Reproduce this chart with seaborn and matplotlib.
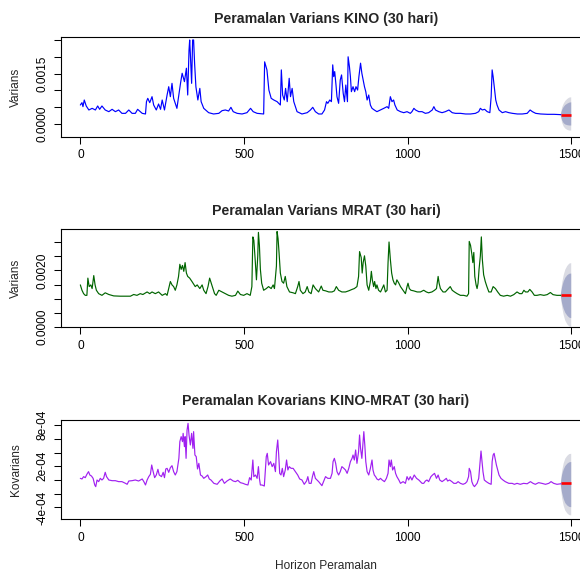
import matplotlib
matplotlib.use("Agg")
import matplotlib.pyplot as plt
import numpy as np
import pandas as pd
import seaborn as sns

# values are stored in units of 1e-4
UNIT = 1e-4

kino_days = [0, 5, 8, 12, 18, 26, 36, 46, 53, 59, 66, 76, 87, 97, 107, 117, 127, 138, 148, 158, 168, 175, 189, 199,
             202, 206, 212, 219, 224, 232, 239, 245, 250, 257, 265, 270, 275, 280, 285, 295, 306, 311, 318, 324, 328,
             332, 334, 336, 340, 343, 346, 349, 353, 359, 365, 369, 377, 392, 407, 423, 433, 443, 453, 460, 467, 479,
             494, 509, 520, 528, 540, 560, 563, 570, 576, 583, 591, 601, 611, 614, 618, 623, 627, 632, 638, 642, 647,
             652, 662, 677, 693, 703, 710, 718, 728, 738, 746, 752, 756, 762, 767, 771, 774, 777, 781, 784, 789, 794,
             798, 803, 807, 811, 816, 818, 822, 825, 828, 833, 838, 842, 847, 851, 856, 860, 864, 868, 872, 876, 881,
             886, 891, 898, 906, 917, 927, 937, 942, 947, 952, 957, 961, 968, 978, 988, 998, 1008, 1013, 1019, 1024,
             1034, 1044, 1054, 1064, 1075, 1080, 1085, 1095, 1105, 1115, 1126, 1136, 1146, 1161, 1177, 1192, 1207,
             1217, 1222, 1228, 1235, 1243, 1251, 1255, 1258, 1261, 1265, 1269, 1273, 1279, 1289, 1299, 1309, 1320,
             1335, 1350, 1365, 1374, 1381, 1391, 1406, 1427, 1447, 1468]
kino_var = [5.65, 6.35, 5.16, 7.14, 5.36, 4.17, 4.66, 4.17, 5.36, 4.37, 5.36, 4.17, 3.67, 4.37, 3.67, 4.17, 3.17, 3.17,
            4.17, 3.17, 3.17, 4.37, 3.17, 2.98, 6.65, 7.64, 6.35, 8.13, 5.65, 4.17, 5.95, 4.37, 7.14, 4.17, 8.63, 11.1,
            8.13, 12.1, 7.64, 4.66, 12.1, 15.1, 12.6, 16.6, 8.63, 22.0, 25.0, 21.0, 12.1, 25.0, 25.0, 18.1, 11.1, 7.14,
            10.6, 6.65, 4.66, 3.37, 2.98, 3.17, 3.97, 4.17, 3.87, 4.96, 3.67, 3.17, 2.98, 3.37, 4.66, 3.67, 3.17, 2.98,
            18.5, 16.1, 10.1, 7.64, 7.14, 6.65, 5.65, 16.1, 8.63, 7.14, 10.6, 6.65, 13.6, 8.13, 10.6, 6.65, 3.67, 2.98,
            3.37, 4.17, 4.96, 3.67, 2.98, 2.98, 4.17, 6.65, 6.15, 7.14, 6.65, 17.6, 14.1, 15.6, 11.6, 8.13, 6.15, 13.1,
            14.6, 9.13, 6.65, 11.6, 6.65, 20.0, 17.1, 14.1, 9.62, 11.1, 9.62, 11.1, 10.1, 14.1, 18.1, 15.1, 13.1, 11.1,
            9.62, 7.14, 8.63, 5.65, 4.66, 4.17, 3.67, 4.17, 4.66, 5.16, 4.66, 8.13, 6.65, 7.14, 5.65, 4.17, 3.67, 3.37,
            3.67, 3.17, 3.67, 4.66, 4.17, 3.67, 3.67, 3.17, 3.37, 4.17, 5.16, 4.17, 3.67, 3.37, 3.67, 4.17, 3.37, 3.17,
            3.17, 2.98, 2.98, 3.17, 3.67, 4.66, 4.17, 4.37, 3.67, 3.37, 8.13, 16.1, 14.1, 10.6, 7.14, 5.65, 4.17, 3.37,
            3.67, 3.37, 3.17, 2.98, 2.98, 3.17, 4.17, 3.67, 3.17, 2.98, 2.88, 2.88, 2.78]

mrat_days = [0, 5, 10, 15, 20, 23, 27, 32, 36, 41, 45, 49, 56, 66, 76, 87, 102, 122, 143, 153, 163, 173, 183, 191, 204,
             212, 219, 229, 239, 250, 260, 265, 275, 280, 285, 290, 295, 300, 304, 308, 312, 316, 320, 324, 328, 334,
             341, 351, 357, 365, 372, 377, 384, 390, 395, 400, 405, 410, 415, 423, 433, 443, 453, 463, 474, 481, 489,
             499, 509, 519, 524, 527, 530, 534, 538, 542, 544, 547, 550, 554, 560, 568, 575, 583, 589, 593, 599, 601,
             604, 607, 611, 616, 621, 626, 631, 639, 650, 657, 664, 668, 672, 680, 687, 693, 698, 705, 711, 718, 728,
             736, 741, 749, 759, 769, 776, 782, 789, 799, 810, 820, 830, 837, 845, 850, 853, 858, 861, 864, 868, 872,
             876, 881, 886, 889, 892, 896, 899, 903, 906, 911, 917, 922, 927, 932, 937, 940, 943, 947, 951, 955, 959,
             963, 967, 973, 978, 986, 993, 998, 1001, 1005, 1010, 1018, 1029, 1039, 1049, 1057, 1064, 1074, 1082, 1088,
             1093, 1096, 1100, 1108, 1115, 1122, 1130, 1136, 1143, 1151, 1161, 1171, 1181, 1186, 1188, 1192, 1196,
             1199, 1202, 1205, 1209, 1212, 1215, 1218, 1222, 1225, 1228, 1232, 1237, 1242, 1248, 1255, 1261, 1268,
             1275, 1283, 1293, 1304, 1314, 1324, 1334, 1342, 1349, 1355, 1360, 1367, 1373, 1380, 1387, 1395, 1405,
             1416, 1426, 1436, 1444, 1456, 1468]
mrat_var = [14.9, 13.0, 11.8, 11.2, 11.2, 17.3, 14.3, 14.9, 13.6, 18.2, 14.9, 13.0, 11.8, 11.2, 12.1, 11.5, 11.0, 10.9,
            10.9, 10.9, 11.5, 11.2, 11.8, 11.5, 12.4, 11.8, 12.4, 11.8, 12.4, 11.2, 11.8, 11.2, 16.1, 14.9, 14.3, 13.0,
            14.9, 17.9, 22.2, 20.4, 21.8, 19.7, 22.8, 19.1, 17.9, 17.3, 16.1, 14.3, 14.9, 13.6, 14.9, 13.0, 11.8, 14.3,
            17.3, 15.5, 13.6, 11.8, 11.2, 13.0, 12.4, 11.8, 11.2, 10.9, 11.2, 12.7, 11.5, 11.2, 11.8, 11.2, 14.3, 31.9,
            30.7, 24.0, 16.7, 25.2, 33.5, 28.9, 20.4, 15.5, 13.0, 13.6, 14.3, 13.6, 14.9, 13.6, 21.6, 33.8, 31.3, 26.4,
            19.1, 16.1, 15.5, 17.9, 14.3, 12.4, 12.1, 11.8, 14.3, 16.1, 13.0, 11.8, 12.4, 14.3, 12.4, 11.8, 14.9, 13.6,
            12.4, 14.5, 13.0, 12.8, 12.4, 12.4, 12.8, 14.3, 13.0, 12.4, 12.4, 12.8, 13.3, 13.6, 14.3, 17.9, 26.7, 24.6,
            19.1, 22.8, 25.2, 21.6, 14.9, 13.0, 16.1, 19.7, 16.7, 14.3, 16.1, 13.6, 14.9, 13.0, 12.4, 13.6, 14.9, 12.4,
            13.0, 22.8, 30.1, 24.0, 19.1, 16.7, 15.5, 14.9, 16.7, 15.5, 14.3, 13.0, 11.8, 14.3, 15.5, 13.6, 13.0, 12.8,
            12.4, 12.4, 13.0, 12.4, 12.1, 12.4, 13.0, 13.6, 17.9, 15.5, 13.6, 12.4, 12.4, 13.3, 14.3, 13.0, 12.4, 11.8,
            11.2, 11.2, 10.9, 11.8, 30.3, 28.9, 25.8, 22.8, 26.4, 17.9, 14.9, 13.6, 15.5, 20.4, 25.2, 31.9, 24.0, 18.5,
            16.1, 14.3, 12.4, 12.4, 14.3, 13.6, 12.4, 11.2, 10.9, 11.2, 10.9, 11.45, 12.4, 11.8, 11.8, 13.0, 12.4, 12.4,
            13.3, 12.4, 11.2, 11.2, 11.45, 11.2, 11.45, 12.2, 11.45, 11.2, 11.2]

cov_days = [0, 5, 10, 15, 20, 25, 29, 34, 39, 44, 47, 51, 56, 61, 66, 71, 76, 80, 87, 97, 107, 117, 127, 138, 143, 148,
            158, 168, 178, 189, 194, 199, 204, 209, 214, 218, 222, 227, 232, 237, 241, 248, 253, 257, 261, 265, 270,
            275, 280, 285, 290, 295, 301, 304, 308, 312, 314, 318, 320, 323, 326, 329, 332, 336, 340, 344, 346, 350,
            354, 358, 362, 367, 372, 377, 384, 389, 394, 399, 408, 418, 426, 433, 440, 448, 458, 467, 474, 481, 489,
            497, 504, 512, 517, 522, 527, 530, 535, 540, 544, 547, 550, 555, 562, 565, 568, 571, 575, 581, 586, 591,
            596, 599, 603, 606, 609, 613, 617, 621, 626, 630, 634, 638, 644, 650, 657, 664, 670, 677, 684, 691, 695,
            699, 705, 709, 713, 718, 723, 728, 738, 743, 749, 756, 764, 769, 772, 776, 780, 784, 789, 794, 799, 805,
            810, 815, 820, 825, 830, 833, 837, 841, 845, 850, 853, 856, 860, 863, 866, 869, 872, 876, 881, 886, 891,
            894, 898, 902, 906, 911, 917, 922, 929, 935, 940, 943, 947, 950, 954, 959, 963, 967, 973, 978, 986, 993,
            998, 1003, 1008, 1013, 1020, 1027, 1034, 1039, 1044, 1049, 1054, 1059, 1064, 1071, 1076, 1082, 1088, 1093,
            1098, 1105, 1112, 1118, 1122, 1128, 1135, 1141, 1148, 1154, 1161, 1169, 1176, 1181, 1186, 1188, 1192, 1196,
            1200, 1204, 1208, 1212, 1217, 1222, 1224, 1227, 1230, 1234, 1240, 1248, 1255, 1258, 1261, 1264, 1267, 1271,
            1275, 1279, 1285, 1291, 1298, 1309, 1319, 1326, 1334, 1344, 1354, 1365, 1375, 1383, 1390, 1400, 1410, 1421,
            1431, 1438, 1446, 1456, 1468]
cov_val = [0.24, 0.15, 0.49, 0.34, 0.83, 1.22, 0.73, 0.58, 0.24, -0.73, -0.97, 0.0, -0.24, 0.24, 0.0, 0.24, 1.12, 0.49,
           0.0, -0.10, -0.10, -0.24, -0.24, -0.49, -0.63, -0.15, -0.10, 0.0, -0.15, 0.15, -0.24, -0.73, 0.0, 0.49, 0.83,
           2.19, 1.31, 0.34, 0.73, 1.56, 0.73, 0.49, 1.12, 0.34, 1.61, 1.70, 1.12, 1.80, 2.09, 1.22, 0.73, 1.22, 3.16,
           5.60, 6.33, 5.60, 6.81, 4.87, 6.33, 3.16, 7.30, 8.27, 6.57, 5.11, 6.81, 4.62, 7.06, 3.65, 3.41, 1.61, 2.43,
           0.73, 0.58, 0.24, 0.49, 0.73, 0.15, 0.0, -0.49, -0.63, -0.15, 0.15, -0.49, -0.15, 0.15, -0.15, -0.24, -0.05,
           -0.39, -0.49, -0.63, -0.73, 0.34, 0.0, 2.92, 0.49, 0.73, 0.24, 1.95, 0.24, -0.73, -0.73, -0.88, 1.22, 3.41,
           3.89, 2.19, 2.68, 1.95, 2.43, 1.22, 4.14, 5.84, 3.65, 0.97, 0.73, 1.70, 0.49, 1.46, 2.92, 1.46, 1.95, 1.70,
           1.70, 1.22, 0.73, 0.15, 0.0, -0.63, -0.15, 0.49, -0.49, -0.49, 0.49, 1.22, 0.24, 0.0, -0.24, -0.83, -0.24,
           0.49, 0.24, 0.24, 0.97, 2.68, 3.16, 2.43, 1.22, 0.73, 1.22, 1.95, 1.70, 1.46, 0.97, 1.70, 2.68, 3.16, 3.65,
           2.92, 4.38, 2.43, 4.14, 6.57, 4.62, 3.16, 5.11, 7.06, 5.11, 2.68, 1.22, 0.73, 1.70, 2.92, 1.46, 0.73, 0.49,
           0.15, 0.0, 0.24, 0.0, -0.24, 0.24, 0.97, 2.92, 1.95, 2.92, 1.46, 1.95, 0.97, 0.49, 0.0, -0.49, -0.24, -0.49,
           0.49, 0.0, 0.49, 0.0, 0.73, 0.24, 0.0, -0.24, -0.49, -0.49, -0.15, 0.0, -0.24, 0.49, 0.73, 0.97, 0.24, 0.73,
           0.0, -0.24, 0.0, 0.24, -0.15, 0.0, -0.24, -0.49, -0.49, -0.24, -0.49, -0.63, -0.49, -0.24, 0.49, 1.70, 1.22,
           -0.24, -0.73, -0.97, -0.73, -0.49, 0.24, 3.16, 4.23, 2.68, 1.22, 0.0, -0.24, -0.49, -0.63, 2.68, 3.65, 3.89,
           3.16, 2.19, 1.46, 0.73, 0.24, 0.0, -0.24, -0.49, -0.49, -0.63, -0.49, -0.63, -0.49, -0.55, -0.24, -0.49,
           -0.63, -0.39, -0.49, -0.63, -0.49, -0.24, -0.49, -0.63, -0.55]

# 30-day forecast: point forecast and fan bands
fc_days = [1468, 1498]
kino_fc = [2.72, 2.72]
mrat_fc = [11.4, 11.4]
cov_fc = [-0.5, -0.5]

fan_days = [1466, 1470, 1475, 1480, 1486, 1492, 1498]
kino_outer_hi = [2.8, 5.0, 6.2, 7.0, 7.6, 8.0, 8.1]
kino_outer_lo = [2.8, 0.6, -0.6, -1.2, -1.6, -1.8, -1.8]
kino_inner_hi = [2.8, 4.3, 5.2, 5.8, 6.2, 6.5, 6.6]
kino_inner_lo = [2.8, 1.3, 0.4, 0.0, -0.2, -0.3, -0.3]
mrat_outer_hi = [11.4, 15.5, 18.5, 20.5, 21.8, 22.6, 22.8]
mrat_outer_lo = [11.4, 7.4, 4.4, 2.4, 1.1, 0.4, 0.2]
mrat_inner_hi = [11.4, 14.2, 16.3, 17.6, 18.5, 19.0, 19.1]
mrat_inner_lo = [11.4, 8.6, 6.6, 5.2, 4.2, 3.5, 3.3]
cov_outer_hi = [-0.5, 1.3, 2.5, 3.2, 3.6, 3.85, 3.9]
cov_outer_lo = [-0.5, -2.5, -3.7, -4.4, -4.8, -5.05, -5.1]
cov_inner_hi = [-0.5, 0.8, 1.6, 2.1, 2.45, 2.65, 2.7]
cov_inner_lo = [-0.5, -1.8, -2.7, -3.3, -3.65, -3.85, -3.9]

W, H = 580, 572
AX_LEFT, AX_RIGHT = 60.7, 591.0


def scaled(vals):
    return np.asarray(vals, dtype=float) * UNIT


def draw_panel(fig, top, bottom, days, vals, color, fc, fans, title, ylabel,
               ylim, yticks, yticklabels, xlabel=None):
    ax = fig.add_axes([AX_LEFT / W, 1 - bottom / H, (AX_RIGHT - AX_LEFT) / W, (bottom - top) / H])
    ax.set_facecolor("white")

    outer_lo, outer_hi, inner_lo, inner_hi = fans
    fd = np.asarray(fan_days)
    ax.fill_between(fd, scaled(outer_lo), scaled(outer_hi), color="#dadbe3", lw=0, zorder=1)
    ax.fill_between(fd, scaled(inner_lo), scaled(inner_hi), color="#a5abca", lw=0, zorder=1.1)

    df = pd.DataFrame({"day": days, "value": scaled(vals)})
    sns.lineplot(data=df, x="day", y="value", ax=ax, color=color, lw=0.85, zorder=2)
    ax.plot(fc_days, scaled(fc), color="red", lw=1.9, solid_capstyle="butt", zorder=3)

    ax.set_xlim(-60, 1560)
    ax.set_ylim(*ylim)
    ax.set_xticks([0, 500, 1000, 1500], ["0", "500", "1000", "1500"])
    ax.set_yticks(yticks, yticklabels)
    for lab in ax.get_yticklabels():
        lab.set_rotation(90)
        lab.set_va("center")
    ax.tick_params(direction="out", length=5, width=0.75, pad=4, labelsize=8.6, colors="black",
                   left=True, bottom=True, right=False, top=False)
    for sp in ax.spines.values():
        sp.set_visible(True)
        sp.set_color("black")
        sp.set_linewidth(0.8)
    ax.set_xlabel("")
    ax.set_ylabel("")
    ax.grid(False)

    h = bottom - top
    span = AX_RIGHT - AX_LEFT
    ax.text((326 - AX_LEFT) / span, 1 + 18.5 / h, title, transform=ax.transAxes,
            ha="center", va="center", fontsize=10.2, fontweight="bold")
    ax.text((16 - AX_LEFT) / span, 0.5, ylabel, transform=ax.transAxes, rotation=90,
            ha="center", va="center", fontsize=8.6)
    if xlabel:
        ax.text((326 - AX_LEFT) / span, -46.4 / h, xlabel, transform=ax.transAxes,
                ha="center", va="center", fontsize=8.6)
    return ax


def main():
    assert len(kino_days) == len(kino_var)
    assert len(mrat_days) == len(mrat_var)
    assert len(cov_days) == len(cov_val)

    sns.set_theme(style="white")
    plt.rcParams["font.family"] = ["Liberation Sans", "DejaVu Sans"]

    fig = plt.figure(figsize=(W / 100, H / 100), dpi=100)
    fig.patch.set_facecolor("white")

    draw_panel(fig, 37.3, 136.7, kino_days, kino_var, "#0000FF", kino_fc,
               (kino_outer_lo, kino_outer_hi, kino_inner_lo, kino_inner_hi),
               "Peramalan Varians KINO (30 hari)", "Varians",
               (-3.78e-4, 25.8e-4),
               [0, 0.0005, 0.0010, 0.0015, 0.0020, 0.0025],
               ["0.0000", "", "", "0.0015", "", ""])
    draw_panel(fig, 229.0, 327.3, mrat_days, mrat_var, "#006400", mrat_fc,
               (mrat_outer_lo, mrat_outer_hi, mrat_inner_lo, mrat_inner_hi),
               "Peramalan Varians MRAT (30 hari)", "Varians",
               (-0.12e-4, 34.7e-4),
               [0, 0.0005, 0.0010, 0.0015, 0.0020, 0.0025, 0.0030],
               ["0.0000", "", "", "", "0.0020", "", ""])
    draw_panel(fig, 420.0, 519.3, cov_days, cov_val, "#A020F0", cov_fc,
               (cov_outer_lo, cov_outer_hi, cov_inner_lo, cov_inner_hi),
               "Peramalan Kovarians KINO-MRAT (30 hari)", "Kovarians",
               (-5.74e-4, 8.76e-4),
               [-4e-4, -2e-4, 0, 2e-4, 4e-4, 6e-4, 8e-4],
               ["-4e-04", "", "", "2e-04", "", "", "8e-04"],
               xlabel="Horizon Peramalan")

    fig.savefig("out.png", dpi=100, facecolor="white")


if __name__ == "__main__":
    main()
